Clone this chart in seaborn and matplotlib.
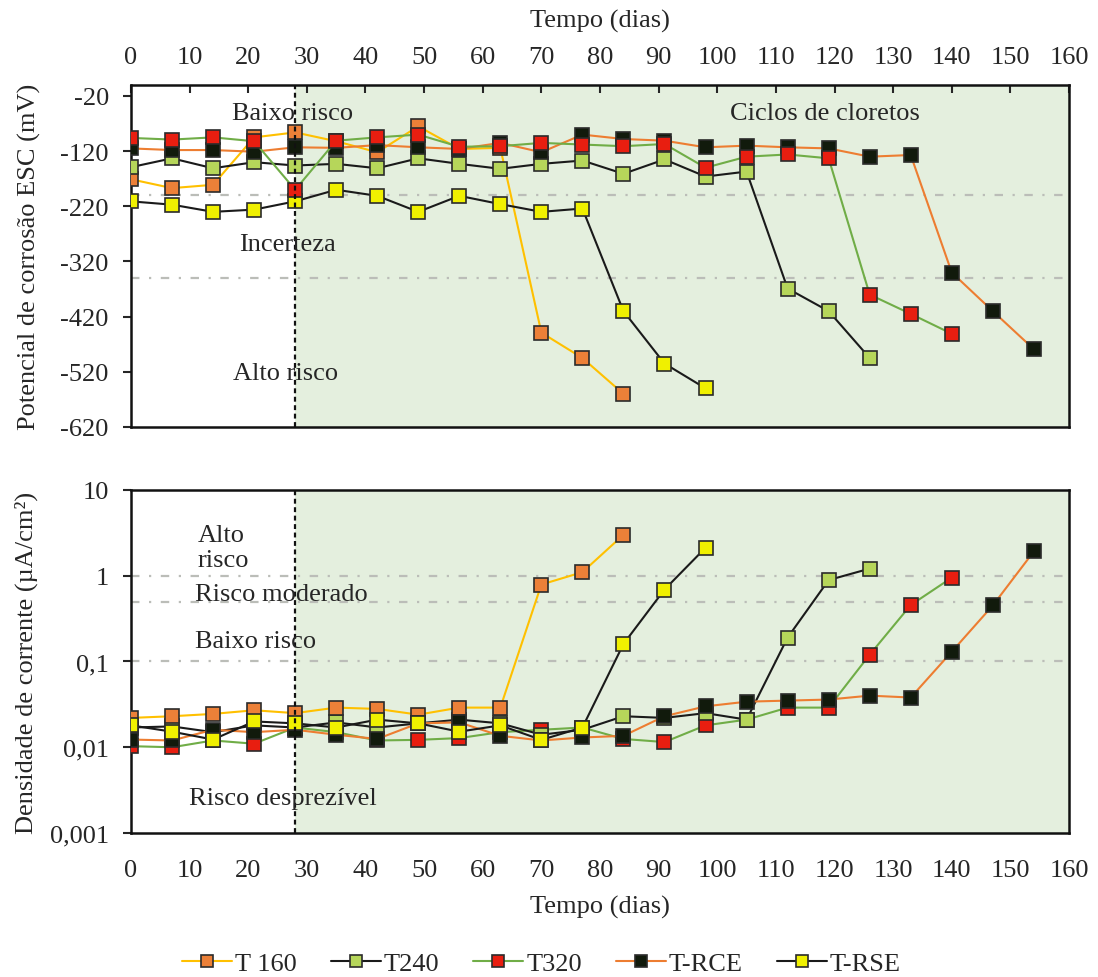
import numpy as np
import matplotlib
matplotlib.use('Agg')
import matplotlib.pyplot as plt
import seaborn as sns

# - data - #
dias = [0, 7, 14, 21, 28, 35, 42, 49, 56, 63, 70, 77, 84, 91, 98, 105, 112, 119, 126, 133, 140, 147, 154]

series = ['T 160', 'T240', 'T320', 'T-RCE', 'T-RSE']

# potencial de corrosao (mV, ESC)
pot_T160 = [-171, -187, -181, -95, -86, -102, -122, -75, -116, -114, -449, -495, -560]
pot_T240 = [-149, -133, -151, -140, -146, -143, -151, -133, -143, -152, -143, -137, -161,
            -135, -166, -157, -369, -410, -495]
pot_T320 = [-96, -99, -95, -102, -190, -101, -95, -90, -112, -111, -105, -108, -111,
            -107, -150, -130, -126, -133, -380, -415, -451]
pot_TRCE = [-115, -118, -118, -121, -113, -114, -109, -113, -116, -105, -122, -90, -98,
            -101, -113, -110, -113, -115, -130, -127, -340, -410, -479]
pot_TRSE = [-211, -217, -230, -226, -211, -190, -201, -230, -201, -216, -230, -224, -410,
            -505, -550]

# densidade de corrente (uA/cm2)
dens_T160 = [0.022, 0.023, 0.0245, 0.027, 0.025, 0.029, 0.028, 0.024, 0.029, 0.029, 0.79, 1.1, 3.0]
dens_T240 = [0.017, 0.0175, 0.015, 0.018, 0.017, 0.0195, 0.017, 0.019, 0.021, 0.019, 0.014, 0.016,
             0.023, 0.022, 0.025, 0.021, 0.19, 0.89, 1.21]
dens_T320 = [0.0103, 0.0100, 0.012, 0.011, 0.017, 0.015, 0.012, 0.0122, 0.0128, 0.015, 0.016, 0.017,
             0.0125, 0.0115, 0.018, 0.021, 0.029, 0.029, 0.12, 0.455, 0.95]
dens_TRCE = [0.0123, 0.012, 0.016, 0.015, 0.016, 0.014, 0.0125, 0.019, 0.0195, 0.0136, 0.012, 0.013,
             0.0136, 0.023, 0.030, 0.034, 0.035, 0.036, 0.040, 0.038, 0.13, 0.45, 1.92]
dens_TRSE = [0.018, 0.0152, 0.0123, 0.020, 0.019, 0.017, 0.021, 0.019, 0.0152, 0.018, 0.0122, 0.017,
             0.16, 0.69, 2.12]

pot = {'T 160': pot_T160, 'T240': pot_T240, 'T320': pot_T320, 'T-RCE': pot_TRCE, 'T-RSE': pot_TRSE}
dens = {'T 160': dens_T160, 'T240': dens_T240, 'T320': dens_T320, 'T-RCE': dens_TRCE, 'T-RSE': dens_TRSE}

# limites de risco
lim_pot = [-200, -350]
lim_dens = [1, 0.5, 0.1]
dens_ticks = [0.001, 0.01, 0.1, 1, 10]
dens_ticklabels = ['0,001', '0,01', '0,1', '1', '10']
inicio_ciclos = 28

# - styles - #
line_col = {'T 160': '#FFC000', 'T240': '#1a1a1a', 'T320': '#70AD47', 'T-RCE': '#ED7D31', 'T-RSE': '#1a1a1a'}
face_col = {'T 160': '#EC8038', 'T240': '#B6D65A', 'T320': '#E81E10', 'T-RCE': '#111A0C', 'T-RSE': '#F0F000'}
z_top = {'T 160': 3, 'T240': 4, 'T-RCE': 5, 'T-RSE': 6, 'T320': 7}
z_bot = {'T320': 3, 'T240': 4, 'T 160': 5, 'T-RCE': 6, 'T-RSE': 7}

sns.set_style('ticks')
plt.rcParams['font.family'] = ['Liberation Serif', 'DejaVu Serif']
plt.rcParams['font.size'] = 19
plt.rcParams['axes.unicode_minus'] = False
plt.rcParams['axes.linewidth'] = 1.8
plt.rcParams['axes.edgecolor'] = '#111111'

fig = plt.figure(figsize=(10.98, 9.78), dpi=100)
ax1 = fig.add_axes([0.1193, 0.5624, 0.8543, 0.3497])
ax2 = fig.add_axes([0.1193, 0.1472, 0.8543, 0.3508])

green_bg = '#E4EFDE'
dashdot = (0, (3.8, 4.3, 1, 4.3))

for ax in (ax1, ax2):
    ax.axvspan(inicio_ciclos, 160, color=green_bg, lw=0, zorder=0)
    ax.axvline(inicio_ciclos, color='#111111', ls=(0, (2.2, 1.6)), lw=1.6, zorder=10)
    ax.set_xlim(0, 160)
    ax.set_xticks(range(0, 161, 10))

for y in lim_pot:
    ax1.axhline(y, color='#BBBDB8', ls=dashdot, lw=1.6, zorder=1)
for y in lim_dens:
    ax2.axhline(y, color='#BBBDB8', ls=dashdot, lw=1.6, zorder=1)

handles = {}
for s in series:
    n = len(pot[s])
    sns.lineplot(x=dias[:n], y=pot[s], ax=ax1, color=line_col[s], lw=1.5,
                 marker='s', markersize=9.5, markerfacecolor=face_col[s],
                 markeredgecolor='#2b2b2b', markeredgewidth=1.2, zorder=z_top[s],
                 label=s, legend=False)
    handles[s] = ax1.lines[-1]
    n = len(dens[s])
    sns.lineplot(x=dias[:n], y=dens[s], ax=ax2, color=line_col[s], lw=1.5,
                 marker='s', markersize=9.5, markerfacecolor=face_col[s],
                 markeredgecolor='#2b2b2b', markeredgewidth=1.2, zorder=z_bot[s],
                 legend=False)

# top panel
ax1.set_ylim(-620, 0)
ax1.set_yticks(np.arange(-620, 0, 100))
ax1.xaxis.tick_top()
ax1.xaxis.set_label_position('top')
ax1.tick_params(axis='x', direction='in', length=6, width=1.5, pad=12, top=True, bottom=False)
ax1.tick_params(axis='y', direction='out', length=6, width=1.5, pad=10)
ax1.set_xlabel('Tempo (dias)', labelpad=14)
ax1.set_ylabel('Potencial de corrosão ESC (mV)')
ax1.yaxis.set_label_coords(-0.096, 0.5)

ax1.text(27.6, -51, 'Baixo risco', ha='center', va='center', zorder=12)
ax1.text(26.7, -288, 'Incerteza', ha='center', va='center', zorder=12)
ax1.text(26.3, -522, 'Alto risco', ha='center', va='center', zorder=12)
ax1.text(118.4, -50, 'Ciclos de cloretos', ha='center', va='center', zorder=12)

# bottom panel
ax2.set_yscale('log')
ax2.set_ylim(0.001, 10)
ax2.set_yticks(dens_ticks)
ax2.set_yticklabels(dens_ticklabels)
ax2.minorticks_off()
ax2.tick_params(axis='x', length=0, pad=19)
ax2.tick_params(axis='y', direction='out', length=6, width=1.5, pad=10)
ax2.set_xlabel('Tempo (dias)', labelpad=10)
ax2.set_ylabel('Densidade de corrente (µA/cm²)')
ax2.yaxis.set_label_coords(-0.099, 0.5)

ax2.text(11.3, 2.13, 'Alto\nrisco', ha='left', va='center', linespacing=1.15, zorder=12)
ax2.text(10.9, 0.61, 'Risco moderado', ha='left', va='center', zorder=12)
ax2.text(10.9, 0.175, 'Baixo risco', ha='left', va='center', zorder=12)
ax2.text(9.9, 0.00254, 'Risco desprezível', ha='left', va='center', zorder=12)

fig.legend([handles[s] for s in series], series, loc='center', bbox_to_anchor=(0.493, 0.014),
           ncol=5, frameon=False, handlelength=1.9, handletextpad=0.1, columnspacing=1.3,
           markerscale=0.85)

fig.savefig('out.png', dpi=100)
